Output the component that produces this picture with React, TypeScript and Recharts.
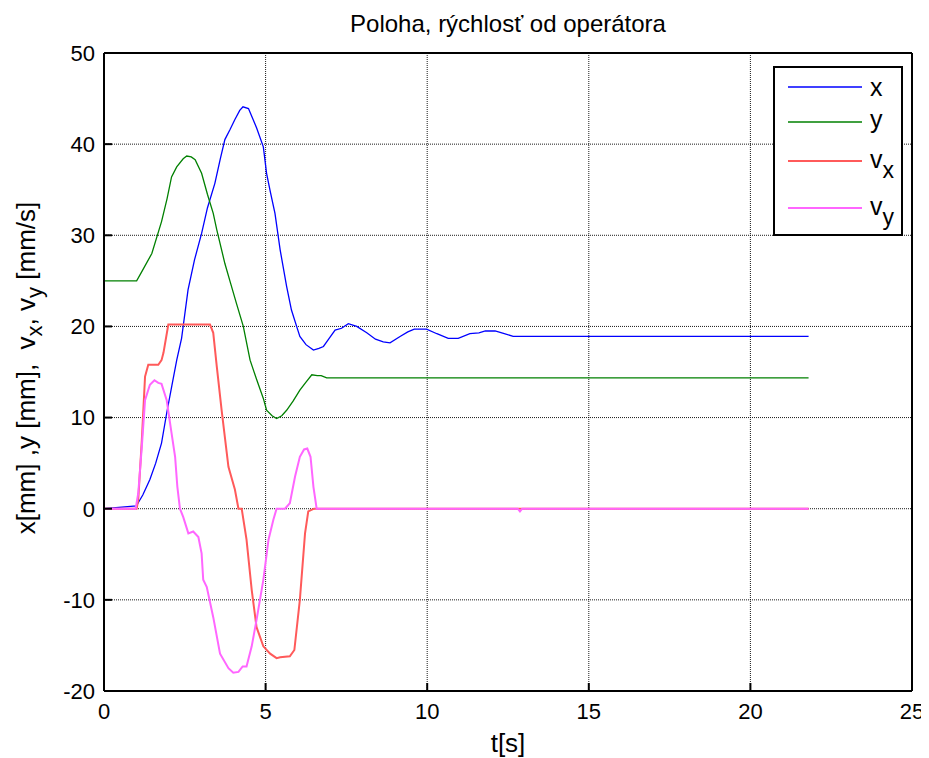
import React from 'react';
import { LineChart, Line, XAxis, YAxis, CartesianGrid, Legend } from 'recharts';

const FONT = '"Liberation Sans", Arial, Helvetica, sans-serif';

// x position [mm]
const xPosT = [0, 1.0, 1.2, 1.42, 1.6, 1.78, 1.94, 2.1, 2.25, 2.4, 2.6, 2.8, 3.02, 3.2, 3.43, 3.6, 3.74, 3.9, 4.05, 4.2, 4.3, 4.47, 4.6, 4.72, 4.93, 5.03, 5.15, 5.29, 5.45, 5.65, 5.8, 5.96, 6.06, 6.25, 6.48, 6.65, 6.79, 6.95, 7.15, 7.35, 7.56, 7.82, 8.13, 8.4, 8.64, 8.85, 9.16, 9.4, 9.6, 9.98, 10.3, 10.65, 10.96, 11.32, 11.6, 11.8, 12.1, 12.36, 12.66, 21.8];
const xPosV = [0, 0.3, 1.5, 3.2, 5.0, 7.2, 10.5, 13.5, 16.3, 18.7, 24.0, 27.3, 30.2, 33.0, 35.7, 38.4, 40.5, 41.6, 42.7, 43.7, 44.1, 43.9, 42.8, 41.8, 39.7, 36.8, 34.7, 32.4, 28.4, 24.4, 21.8, 20.0, 18.9, 18.0, 17.4, 17.6, 17.8, 18.6, 19.6, 19.8, 20.3, 20.0, 19.3, 18.6, 18.3, 18.2, 18.9, 19.4, 19.7, 19.7, 19.2, 18.7, 18.7, 19.2, 19.3, 19.5, 19.5, 19.25, 18.9, 18.9];

// y position [mm]
const yPosT = [0, 1.01, 1.2, 1.48, 1.78, 1.95, 2.09, 2.25, 2.45, 2.56, 2.7, 2.82, 3.02, 3.2, 3.38, 3.49, 3.74, 3.92, 4.1, 4.31, 4.52, 4.72, 4.93, 5.03, 5.2, 5.34, 5.5, 5.65, 5.85, 6.06, 6.25, 6.43, 6.6, 6.72, 6.89, 21.8];
const yPosV = [25, 25, 26.2, 28.0, 31.5, 34.0, 36.4, 37.5, 38.4, 38.7, 38.6, 38.3, 36.8, 34.5, 32.4, 30.6, 26.9, 24.7, 22.5, 20.0, 16.3, 14.2, 12.1, 10.8, 10.2, 9.9, 10.2, 10.8, 11.8, 13.0, 13.9, 14.7, 14.6, 14.6, 14.35, 14.35];

// vx [mm/s]
const vxT = [0, 1.01, 1.06, 1.17, 1.27, 1.37, 1.68, 1.78, 1.84, 1.99, 2.04, 3.28, 3.38, 3.49, 3.64, 3.85, 4.05, 4.16, 4.26, 4.41, 4.57, 4.72, 4.93, 5.14, 5.34, 5.45, 5.75, 5.89, 6.06, 6.22, 6.32, 6.5, 21.8];
const vxV = [0, 0, 1.0, 7.5, 14.5, 15.8, 15.8, 16.3, 17.1, 20.2, 20.2, 20.2, 19.3, 15.6, 10.8, 4.6, 2.1, 0, 0, -3.4, -8.9, -13.0, -15.1, -15.9, -16.4, -16.3, -16.2, -15.5, -10.0, -2.7, -0.3, 0, 0];

// vy [mm/s]
const vyT = [0, 0.98, 1.06, 1.17, 1.27, 1.42, 1.56, 1.68, 1.78, 1.94, 2.09, 2.2, 2.27, 2.35, 2.45, 2.61, 2.76, 2.92, 3.02, 3.07, 3.18, 3.38, 3.59, 3.85, 4.0, 4.16, 4.29, 4.41, 4.57, 4.72, 4.93, 5.09, 5.24, 5.34, 5.6, 5.75, 5.91, 6.06, 6.19, 6.29, 6.39, 6.48, 6.58, 12.8, 12.87, 12.94, 21.8];
const vyV = [0, 0, 1.7, 6.8, 11.9, 13.6, 14.1, 13.8, 13.7, 11.9, 8.3, 5.7, 2.4, 0, -0.9, -2.7, -2.5, -3.1, -4.9, -7.8, -8.6, -11.9, -15.9, -17.5, -18.0, -17.9, -17.3, -17.3, -15.1, -12.2, -7.8, -3.4, -1.2, 0, 0, 0.6, 3.5, 5.7, 6.5, 6.6, 5.7, 2.4, 0, 0, -0.3, 0, 0];

const xTicks = [0, 5, 10, 15, 20, 25];
const yTicks = [-20, -10, 0, 10, 20, 30, 40, 50];

const seriesNames = ['x', 'y', 'v', 'v'];
const seriesSubs = ['', '', 'x', 'y'];
const seriesColors = ['#0000ff', '#008000', '#ff5a5a', '#ff66ff'];
const seriesWidths = [1.3, 1.3, 2, 2];

const TITLE = 'Poloha, rýchlosť od operátora';

const toPoints = (ts: number[], vs: number[]) => ts.map((t, i) => ({ t, v: vs[i] }));
const seriesData = [toPoints(xPosT, xPosV), toPoints(yPosT, yPosV), toPoints(vxT, vxV), toPoints(vyT, vyV)];

const TICK_FONT = 22;
const TICK_LEN = 8;
const X_TICK_MARGIN = 12;
const Y_TICK_MARGIN = 9;

const LegendBox = () => {
  const rowY = [21, 56, 95, 142];
  const baseY = [30, 62, 102, 149];
  return (
    <svg width={130} height={170} style={{ display: 'block' }}>
      <rect x={1} y={1} width={128} height={168} fill="#fff" stroke="#000" strokeWidth={2} />
      {seriesNames.map((n, i) => (
        <g key={i}>
          <line x1={15} x2={89} y1={rowY[i]} y2={rowY[i]} stroke={seriesColors[i]} strokeWidth={seriesWidths[i]} />
          <text x={97} y={baseY[i]} fontFamily={FONT} fontSize={25} fill="#000">
            <tspan>{n}</tspan>
            {seriesSubs[i] ? <tspan dy={10} fontSize={23}>{seriesSubs[i]}</tspan> : null}
          </text>
        </g>
      ))}
    </svg>
  );
};

const TitleLabel = (props: any) => {
  const vb = props.viewBox || {};
  return (
    <text x={vb.x + vb.width / 2} y={vb.y - 21} textAnchor="middle" fontFamily={FONT} fontSize={24} fill="#000">
      {TITLE}
    </text>
  );
};

const XLabel = (props: any) => {
  const vb = props.viewBox || {};
  return (
    <text x={vb.x + vb.width / 2} y={vb.y + 61} textAnchor="middle" fontFamily={FONT} fontSize={26} fill="#000">
      t[s]
    </text>
  );
};

const YLabel = (props: any) => {
  const vb = props.viewBox || {};
  const cx = 27;
  const cy = vb.y + vb.height / 2 - 4;
  return (
    <text x={cx} y={cy} transform={`rotate(-90, ${cx}, ${cy})`} textAnchor="middle" fontFamily={FONT} fontSize={26} fill="#000" style={{ whiteSpace: 'pre' }}>
      <tspan>{'x[mm] ,y [mm],  v'}</tspan>
      <tspan dy={7} fontSize={22}>x</tspan>
      <tspan dy={-7}>{', v'}</tspan>
      <tspan dy={7} fontSize={22}>y</tspan>
      <tspan dy={-7}>{' [mm/s]'}</tspan>
    </text>
  );
};

// bottom axis tick: label outside, tick mark pointing into the plot
const BottomTick = (props: any) => {
  const { x, y, payload } = props;
  const axisY = y - X_TICK_MARGIN;
  return (
    <g>
      <line x1={x} x2={x} y1={axisY} y2={axisY - TICK_LEN} stroke="#000" strokeWidth={2} />
      <text x={x} y={y} dy="0.71em" textAnchor="middle" fontFamily={FONT} fontSize={TICK_FONT} fill="#000">
        {payload.value}
      </text>
    </g>
  );
};

// left axis tick: label outside, tick mark pointing into the plot
const LeftTick = (props: any) => {
  const { x, y, payload } = props;
  const axisX = x + Y_TICK_MARGIN;
  return (
    <g>
      <line x1={axisX} x2={axisX + TICK_LEN} y1={y} y2={y} stroke="#000" strokeWidth={2} />
      <text x={x} y={y} dy="0.355em" textAnchor="end" fontFamily={FONT} fontSize={TICK_FONT} fill="#000">
        {payload.value}
      </text>
    </g>
  );
};

const axisLineStyle = { stroke: '#000', strokeWidth: 2 };

export default function App() {
  return (
    <LineChart width={921} height={750} margin={{ top: 45, right: 17, bottom: 27, left: 36 }}>
      <CartesianGrid stroke="#000" strokeDasharray="1 1" strokeWidth={1} strokeOpacity={0.9} />
      <XAxis
        dataKey="t"
        type="number"
        domain={[0, 25]}
        ticks={xTicks}
        allowDataOverflow
        height={40}
        tickSize={0}
        tickMargin={X_TICK_MARGIN}
        tick={<BottomTick />}
        tickLine={false}
        axisLine={axisLineStyle}
        label={<XLabel />}
      />
      <XAxis
        xAxisId="top"
        orientation="top"
        mirror
        type="number"
        domain={[0, 25]}
        ticks={xTicks}
        allowDataOverflow
        height={30}
        tickSize={TICK_LEN}
        tick={false}
        tickLine={{ stroke: '#000', strokeWidth: 2 }}
        axisLine={axisLineStyle}
        label={<TitleLabel />}
      />
      <YAxis
        type="number"
        domain={[-20, 50]}
        ticks={yTicks}
        allowDataOverflow
        width={60}
        tickSize={0}
        tickMargin={Y_TICK_MARGIN}
        tick={<LeftTick />}
        tickLine={false}
        axisLine={axisLineStyle}
        label={<YLabel />}
      />
      <YAxis
        yAxisId="right"
        orientation="right"
        mirror
        type="number"
        domain={[-20, 50]}
        ticks={yTicks}
        allowDataOverflow
        width={30}
        tickSize={TICK_LEN}
        tick={false}
        tickLine={{ stroke: '#000', strokeWidth: 2 }}
        axisLine={axisLineStyle}
      />
      {seriesData.map((d, i) => (
        <Line
          key={i}
          data={d}
          dataKey="v"
          name={seriesNames[i] + seriesSubs[i]}
          type="linear"
          stroke={seriesColors[i]}
          strokeWidth={seriesWidths[i]}
          dot={false}
          activeDot={false}
          isAnimationActive={false}
        />
      ))}
      <Legend
        layout="horizontal"
        verticalAlign="middle"
        align="center"
        content={<LegendBox />}
        wrapperStyle={{ left: 765, top: 58, width: 130, height: 170 }}
      />
    </LineChart>
  );
}
